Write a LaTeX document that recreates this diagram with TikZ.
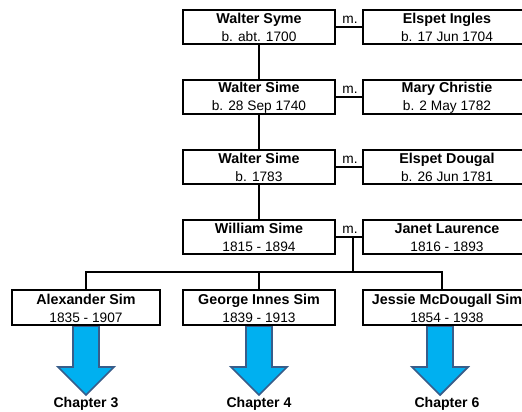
\documentclass[tikz,border=0pt]{standalone}
\usepackage{fontspec}
\setmainfont{Liberation Sans}
\definecolor{chapblue}{HTML}{00B0F0}
\definecolor{chapedge}{HTML}{385D8A}
\newcommand{\pname}[1]{\rule{0pt}{9.6pt}{\fontsize{12.2}{15.4}\selectfont\bfseries #1}}
\tikzset{
person/.style={draw, line width=1.7pt, align=center, font=\fontsize{11.7}{15.4}\selectfont, inner sep=0pt, minimum height=29.6pt},
wide/.style={person, minimum width=130.5pt},
spouse/.style={person, minimum width=143.5pt},
kid/.style={person, minimum width=126.5pt},
line/.style={line width=1.7pt},
marr/.style={font=\fontsize{11.7}{14}\selectfont, inner sep=0pt},
chap/.style={font=\fontsize{12}{14}\selectfont\bfseries, inner sep=0pt},
bigarrow/.style={fill=chapblue, draw=chapedge, line width=1.5pt, line join=miter}
}
\begin{document}
\begin{tikzpicture}[x=.03cm, y=-.03cm]
\useasboundingbox (0,0) rectangle (522,411);

% the blue arrows go first
\foreach \ax in {86,259,440} {
\draw[bigarrow] (\ax-13,326) -- (\ax+13,326) -- (\ax+13,367) -- (\ax+28,367) -- (\ax,395) -- (\ax-28,367) -- (\ax-13,367) -- cycle;
}

\node[wide] (syme) at (259,27) {\pname{Walter Syme}\\b. abt. 1700};
\node[spouse] (ingles) at (447,27) {\pname{Elspet Ingles}\\b. 17 Jun 1704};
\node[wide] (sime1) at (259,97) {\pname{Walter Sime}\\b. 28 Sep 1740};
\node[spouse] (christie) at (447,97) {\pname{Mary Christie}\\b. 2 May 1782};
\node[wide] (sime2) at (259,167) {\pname{Walter Sime}\\b. 1783};
\node[spouse] (dougal) at (447,167) {\pname{Elspet Dougal}\\b. 26 Jun 1781};
\node[wide] (william) at (259,237) {\pname{William Sime}\\1815 - 1894};
\node[spouse] (janet) at (447,237) {\pname{Janet Laurence}\\1816 - 1893};

\node[kid] (alex) at (86,307.5) {\pname{Alexander Sim}\\1835 - 1907};
\node[wide] (george) at (259,307.5) {\pname{George Innes Sim}\\1839 - 1913};
\node[spouse] (jessie) at (447,307.5) {\pname{Jessie McDougall Sim}\\1854 - 1938};

\node[marr] (m1) at (350,19.5) {m.};
\node[marr] (m2) at (350,89.5) {m.};
\node[marr] (m3) at (350,159.5) {m.};
\node[marr] (m4) at (350,229.5) {m.};

\draw[line] (syme) -- (ingles);
\draw[line] (sime1) -- (christie);
\draw[line] (sime2) -- (dougal);
\draw[line] (william) -- (janet);

\draw[line] (syme) -- (sime1);
\draw[line] (sime1) -- (sime2);
\draw[line] (sime2) -- (william);

\coordinate (join) at (353,237);
\coordinate (bar) at (353,272);
\draw[line] (join) -- (bar);
\draw[line] (alex.north) |- (bar);
\draw[line] (george.north) -- (george.north |- bar);
\draw[line] (bar) -| (442,290);

\node[chap] (c3) at (86,404) {Chapter 3};
\node[chap] (c4) at (259,404) {Chapter 4};
\node[chap] (c6) at (447,404) {Chapter 6};

\end{tikzpicture}
\end{document}
